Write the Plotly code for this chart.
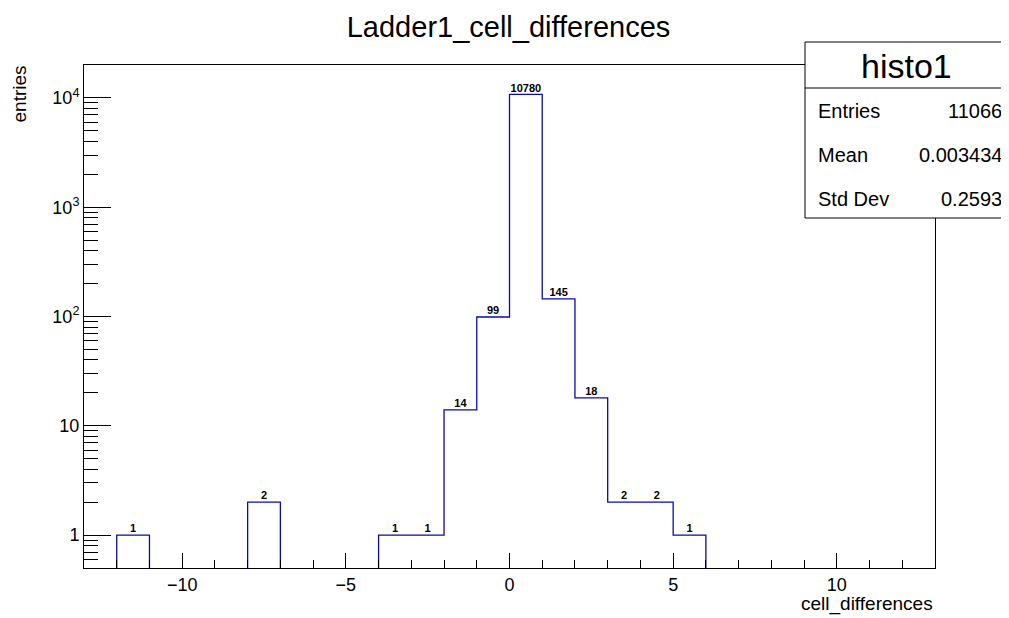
import plotly.graph_objects as go
import math

# ---- data ----
bin_low_edges = [-12, -8, -4, -3, -2, -1, 0, 1, 2, 3, 4, 5]   # non-empty bins (width 1)
bin_counts = [1, 2, 1, 1, 14, 99, 10780, 145, 18, 2, 2, 1]
x_min, x_max, bin_width = -13, 13, 1
stats_labels = ["Entries", "Mean", "Std Dev"]
stats_values = ["11066", "0.003434", "0.2593"]
hist_name = "histo1"
title_text = "Ladder1_cell_differences"
y_tickvals = [1, 10, 100, 1000, 10000]
y_ticktext = ["1", "10", "10<sup>2</sup>", "10<sup>3</sup>", "10<sup>4</sup>"]
x_tickvals = [-10, -5, 0, 5, 10]
x_ticktext = ["\u221210", "\u22125", "0", "5", "10"]

y_lo, y_hi = 0.5, 20000

# build step outline: one closed run per group of contiguous non-empty bins
xs, ys = [], []
run = []
def flush(run):
    if not run:
        return
    lo0 = run[0][0]
    hi_last = run[-1][0] + bin_width
    rx = [lo0] + [lo for lo, _ in run] + [hi_last, hi_last]
    ry = [y_lo] + [c for _, c in run] + [run[-1][1], y_lo]
    xs.extend(rx + [None])
    ys.extend(ry + [None])
prev = None
for lo, c in zip(bin_low_edges, bin_counts):
    if prev is not None and abs(lo - (prev + bin_width)) > 1e-9:
        flush(run)
        run = []
    run.append((lo, c))
    prev = lo
flush(run)

# page body has an 8px margin -> work in page pixels, convert to figure pixels
OFF = 8
W, H = 1009 - OFF, 618 - OFF
PL, PR, PT, PB = 84, 935, 65, 568   # plot area in page pixels
L, T = PL - OFF, PT - OFF
R = W - (PR - OFF)
B = H - (PB - OFF)
pw, ph = PR - PL, PB - PT
def px(xp):
    return (xp - PL) / pw
def py(yp):
    return (PB - yp) / ph

FONT = "Liberation Sans, Arial, sans-serif"
LINE = "#0a0ab0"

fig = go.Figure()
fig.add_trace(go.Scatter(x=xs, y=ys, mode="lines", line=dict(shape="hv", color=LINE, width=1.3),
                         connectgaps=False, hoverinfo="skip", showlegend=False))
centers = [lo + bin_width / 2 for lo in bin_low_edges]
fig.add_trace(go.Scatter(x=centers, y=bin_counts, mode="text", text=[str(c) for c in bin_counts],
                         textposition="top center",
                         textfont=dict(family=FONT, size=11, color="black", weight="bold"),
                         hoverinfo="skip", showlegend=False, cliponaxis=False))
# invisible trace on minor-tick axis
fig.add_trace(go.Scatter(x=[x_min], y=[1], yaxis="y2", mode="markers", marker=dict(opacity=0),
                         hoverinfo="skip", showlegend=False))

minor_vals = [m * 10 ** d for d in range(-1, 5) for m in range(2, 10) if y_lo <= m * 10 ** d <= y_hi]

fig.update_layout(
    width=W, height=H, margin=dict(l=L, r=R, t=T, b=B, pad=0),
    paper_bgcolor="white", plot_bgcolor="white",
    font=dict(family=FONT, size=18, color="black"),
    title=dict(text=title_text, x=0.5, xanchor="center", y=1 - (27 - OFF) / H, yanchor="middle",
               font=dict(size=29, family=FONT)),
    xaxis=dict(range=[x_min, x_max], showgrid=False, zeroline=False, showline=True, mirror=True,
               linecolor="black", linewidth=1, ticks="inside", ticklen=15, tickwidth=1, tickcolor="black",
               tickvals=x_tickvals, ticktext=x_ticktext, tickfont=dict(size=18),
               minor=dict(dtick=1, tick0=0, ticks="inside", ticklen=8, tickcolor="black", showgrid=False)),
    yaxis=dict(type="log", range=[math.log10(y_lo), math.log10(y_hi)], showgrid=False, zeroline=False,
               showline=True, mirror=True, linecolor="black", linewidth=1, ticks="inside", ticklen=27,
               tickwidth=1, tickcolor="black", tickvals=y_tickvals, ticktext=y_ticktext,
               tickfont=dict(size=18)),
    yaxis2=dict(type="log", range=[math.log10(y_lo), math.log10(y_hi)], overlaying="y", side="left",
                showgrid=False, zeroline=False, showline=False, ticks="inside", ticklen=14,
                tickcolor="black", tickvals=minor_vals, showticklabels=False),
)

ann = []
ann.append(dict(text="entries", xref="paper", yref="paper", x=px(19), y=py(64), xanchor="center",
                yanchor="top", textangle=-90, showarrow=False, font=dict(size=19, family=FONT)))
ann.append(dict(text="cell_differences", xref="paper", yref="paper", x=px(PR), y=py(604), xanchor="right",
                yanchor="middle", showarrow=False, font=dict(size=19, family=FONT)))

# stats box
bx0, bx1, by0, by1, bsep = 805, 1008, 42, 218, 88
shapes = [
    dict(type="rect", xref="paper", yref="paper", x0=px(bx0), x1=px(bx1), y0=py(by1), y1=py(by0),
         line=dict(color="black", width=1), fillcolor="white", layer="above"),
    dict(type="line", xref="paper", yref="paper", x0=px(bx0), x1=px(bx1), y0=py(bsep), y1=py(bsep),
         line=dict(color="black", width=1), layer="above"),
]
ann.append(dict(text=hist_name, xref="paper", yref="paper", x=px((bx0 + bx1) / 2), y=py(66),
                xanchor="center", yanchor="middle", showarrow=False, font=dict(size=34, family=FONT)))
rows_y = [111, 155, 199]
for lab, val, yy in zip(stats_labels, stats_values, rows_y):
    ann.append(dict(text=lab, xref="paper", yref="paper", x=px(816), y=py(yy), xanchor="left",
                    yanchor="middle", showarrow=False, font=dict(size=20, family=FONT)))
    ann.append(dict(text=val, xref="paper", yref="paper", x=px(1004), y=py(yy), xanchor="right",
                    yanchor="middle", showarrow=False, font=dict(size=20, family=FONT)))

fig.update_layout(annotations=ann, shapes=shapes)
fig.write_html("out.html")
